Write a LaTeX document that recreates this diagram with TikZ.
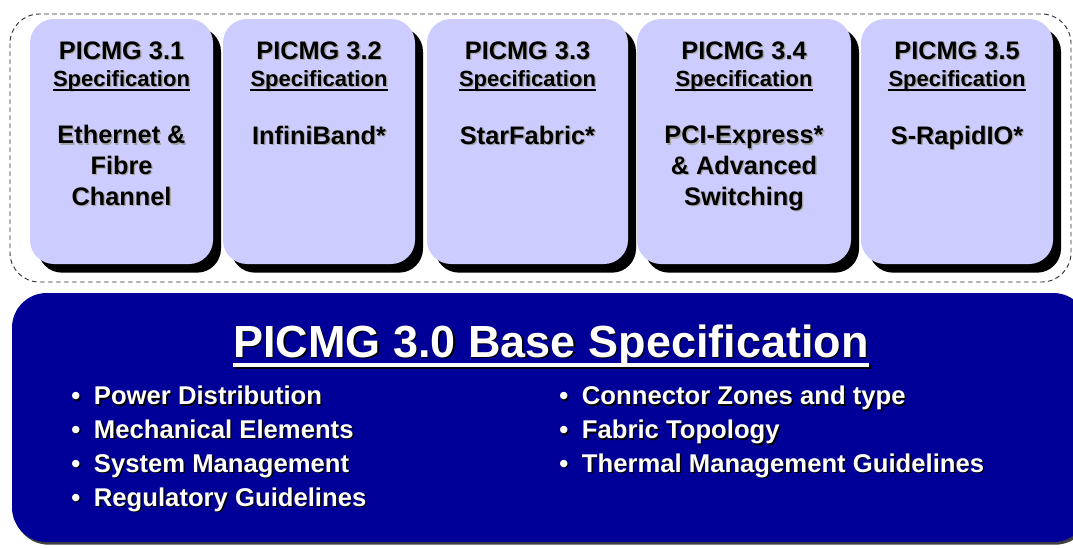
\documentclass[tikz,border=0pt]{standalone}
\usepackage{fontspec}
\setmainfont{Liberation Sans}
\usepackage{tikz}
\usetikzlibrary{shadows}
\definecolor{specfill}{HTML}{CCCCFF}
\definecolor{basefill}{HTML}{000099}

% text with a small shadow below it
\newcommand{\shtext}[5]{%
  \node[#3,text=#4,xshift=1pt,yshift=-1pt] at (#2) {#5};
  \node[#3] (#1) at (#2) {#5};}

\tikzset{
  specbox/.style={fill=specfill, rounded corners=18pt, inner sep=0pt,
    minimum height=183.75pt,
    drop shadow={shadow xshift=6pt, shadow yshift=-6.5pt, fill=black, opacity=1}},
  headtxt/.style={anchor=base, inner sep=0pt, font=\bfseries\fontsize{19}{22}\selectfont},
  spectxt/.style={anchor=base, inner sep=0pt, font=\bfseries\fontsize{16.5}{20}\selectfont},
  bodytxt/.style={anchor=base, inner sep=0pt, align=center, font=\bfseries\fontsize{19}{22.9}\selectfont},
  uline/.style={line width=1.1pt},
  basebox/.style={fill=basefill, rounded corners=26pt,
    drop shadow={shadow xshift=1.5pt, shadow yshift=-2pt, fill=black!75, opacity=1}},
  titletxt/.style={anchor=base, inner sep=0pt, text=white, font=\bfseries\fontsize{33.75}{40}\selectfont},
  itemtxt/.style={anchor=base west, inner sep=0pt, align=left, text=white,
    font=\bfseries\fontsize{19.25}{25.3}\selectfont}
}
\newcommand{\itm}{\makebox[17pt][l]{\textbullet}}

\begin{document}
\begin{tikzpicture}[x=0.75pt,y=-0.75pt]
 \useasboundingbox (0,0) rectangle (1073,547);
 \clip (0,0) rectangle (1073,547);

 % dashed frame round the five specifications
 \draw[dashed, dash pattern=on 3.5pt off 2.5pt, line width=0.7pt, black!80, rounded corners=22pt]
   (10,14) rectangle (1071,282);

 % PICMG 3.1  (multi-line texts sit on their last baseline)
 \node[specbox, minimum width=137.25pt] (s1) at (121.5,141.5) {};
 \shtext{h1}{121.5,59.5}{headtxt}{black!35}{PICMG 3.1}
 \shtext{p1}{121.5,86}{spectxt}{black!35}{Specification}
 \draw[uline] ([yshift=-3pt]p1.base west) -- ([yshift=-3pt]p1.base east);
 \shtext{b1}{121.5,205}{bodytxt}{black!35}{Ethernet \&\\Fibre\\Channel}

 % PICMG 3.2
 \node[specbox, minimum width=144pt] (s2) at (319,141.5) {};
 \shtext{h2}{319,59.5}{headtxt}{black!35}{PICMG 3.2}
 \shtext{p2}{319,86}{spectxt}{black!35}{Specification}
 \draw[uline] ([yshift=-3pt]p2.base west) -- ([yshift=-3pt]p2.base east);
 \shtext{b2}{319,144}{bodytxt}{black!35}{InfiniBand*}

 % PICMG 3.3
 \node[specbox, minimum width=150.75pt] (s3) at (527.5,141.5) {};
 \shtext{h3}{527.5,59.5}{headtxt}{black!35}{PICMG 3.3}
 \shtext{p3}{527.5,86}{spectxt}{black!35}{Specification}
 \draw[uline] ([yshift=-3pt]p3.base west) -- ([yshift=-3pt]p3.base east);
 \shtext{b3}{527.5,144}{bodytxt}{black!35}{StarFabric*}

 % PICMG 3.4
 \node[specbox, minimum width=160.5pt] (s4) at (744,141.5) {};
 \shtext{h4}{744,59.5}{headtxt}{black!35}{PICMG 3.4}
 \shtext{p4}{744,86}{spectxt}{black!35}{Specification}
 \draw[uline] ([yshift=-3pt]p4.base west) -- ([yshift=-3pt]p4.base east);
 \shtext{b4}{744,205}{bodytxt}{black!35}{PCI-Express*\\\& Advanced\\Switching}

 % PICMG 3.5
 \node[specbox, minimum width=144pt] (s5) at (957,141.5) {};
 \shtext{h5}{957,59.5}{headtxt}{black!35}{PICMG 3.5}
 \shtext{p5}{957,86}{spectxt}{black!35}{Specification}
 \draw[uline] ([yshift=-3pt]p5.base west) -- ([yshift=-3pt]p5.base east);
 \shtext{b5}{957,144}{bodytxt}{black!35}{S-RapidIO*}

 %%%%%%%%%%%%%%%%%%%%%%%%%%%%%%%%%%%
 % base specification
 \path[basebox] (12,293) rectangle (1088,542);
 \shtext{ttl}{551,357}{titletxt}{black}{PICMG 3.0 Base Specification}
 \draw[line width=2.3pt, black] ([xshift=1.5pt,yshift=-7.5pt]ttl.base west) -- ([xshift=1.5pt,yshift=-7.5pt]ttl.base east);
 \draw[line width=2.3pt, white] ([yshift=-6pt]ttl.base west) -- ([yshift=-6pt]ttl.base east);

 \shtext{lcol}{71,506}{itemtxt}{black}{\itm Power Distribution\\\itm Mechanical Elements\\\itm System Management\\\itm Regulatory Guidelines}
 \shtext{rcol}{559,472.4}{itemtxt}{black}{\itm Connector Zones and type\\\itm Fabric Topology\\\itm Thermal Management Guidelines}
\end{tikzpicture}
\end{document}
